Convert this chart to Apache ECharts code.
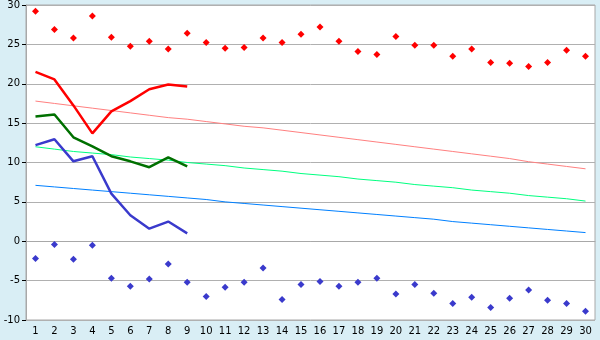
<!DOCTYPE html>
<html><head><meta charset="utf-8">
<script src="https://cdn.jsdelivr.net/npm/echarts@6/dist/echarts.min.js"></script>
<style>html,body{margin:0;padding:0;background:#d9eef5;}#c{width:600px;height:340px;}</style>
</head><body><div id="c"></div>
<script>
var days = [1,2,3,4,5,6,7,8,9,10,11,12,13,14,15,16,17,18,19,20,21,22,23,24,25,26,27,28,29,30];
var yTicks = {min:-10, max:30, interval:5};
var recordMax = [29.2,26.9,25.8,28.6,25.9,24.75,25.4,24.4,26.4,25.25,24.5,24.6,25.8,25.25,26.3,27.2,25.4,24.1,23.7,26.0,24.9,24.9,23.5,24.4,22.7,22.6,22.2,22.7,24.25,23.5];
var recordMin = [-2.2,-0.4,-2.3,-0.5,-4.7,-5.7,-4.8,-2.9,-5.2,-7.0,-5.85,-5.2,-3.4,-7.4,-5.5,-5.1,-5.7,-5.2,-4.7,-6.7,-5.5,-6.6,-7.9,-7.1,-8.4,-7.25,-6.2,-7.5,-7.9,-8.9];
var obsMax = [21.5,20.55,17.25,13.7,16.5,17.8,19.3,19.9,19.65];
var obsMean = [15.85,16.1,13.2,12.05,10.8,10.15,9.4,10.65,9.5];
var obsMin = [12.2,12.95,10.15,10.8,6.05,3.3,1.6,2.5,1.0];
var normMax = [17.8,17.5,17.2,16.9,16.6,16.3,16.0,15.7,15.5,15.2,14.9,14.6,14.4,14.1,13.8,13.5,13.2,12.9,12.6,12.3,12.0,11.7,11.4,11.1,10.8,10.5,10.1,9.8,9.5,9.2];
var normMean = [12.0,11.7,11.4,11.2,11.0,10.7,10.5,10.3,10.0,9.8,9.6,9.3,9.1,8.9,8.6,8.4,8.2,7.9,7.7,7.5,7.2,7.0,6.8,6.5,6.3,6.1,5.8,5.6,5.4,5.1];
var normMin = [7.1,6.9,6.7,6.5,6.3,6.1,5.9,5.7,5.5,5.3,5.0,4.8,4.6,4.4,4.2,4.0,3.8,3.6,3.4,3.2,3.0,2.8,2.5,2.3,2.1,1.9,1.7,1.5,1.3,1.1];

var chart = echarts.init(document.getElementById('c'), null, {renderer:'canvas'});
var font = {fontFamily:'DejaVu Sans', fontSize:10, color:'#000'};
function line(data, color, width, z){
  return {type:'line', data:data, symbol:'none', z:z, animation:false,
    lineStyle:{color:color, width:width}, itemStyle:{color:color}};
}
function pts(data, color){
  return {type:'scatter', data:data, symbol:'diamond', symbolSize:7, z:5, animation:false,
    itemStyle:{color:color, opacity:1}};
}
chart.setOption({
  backgroundColor:'#d9eef5',
  animation:false,
  grid:{left:26, right:5, top:5, bottom:20, show:true, backgroundColor:'#ffffff', borderColor:'#a8a8a8', borderWidth:1},
  xAxis:{type:'category', data:days, boundaryGap:true,
    axisLine:{lineStyle:{color:'#a8a8a8'}},
    axisTick:{alignWithLabel:true, length:4, lineStyle:{color:'#000'}},
    axisLabel:Object.assign({margin:6, interval:0}, font),
    splitLine:{show:false}},
  yAxis:{type:'value', min:yTicks.min, max:yTicks.max, interval:yTicks.interval,
    axisLine:{show:true, lineStyle:{color:'#a8a8a8'}},
    axisTick:{show:true, length:4, lineStyle:{color:'#000'}},
    axisLabel:Object.assign({margin:6}, font),
    splitLine:{lineStyle:{color:'#b0b0b0', width:1}}},
  series:[
    line(normMax, '#ff8080', 1, 2),
    line(normMean, '#00ff80', 1, 2),
    line(normMin, '#0080ff', 1, 2),
    line(obsMax, '#ff0000', 2.5, 3),
    line(obsMean, '#007000', 2.5, 3),
    line(obsMin, '#3a3acc', 2.5, 3),
    pts(recordMax, '#ff0000'),
    pts(recordMin, '#3a3acc')
  ]
});
</script></body></html>
